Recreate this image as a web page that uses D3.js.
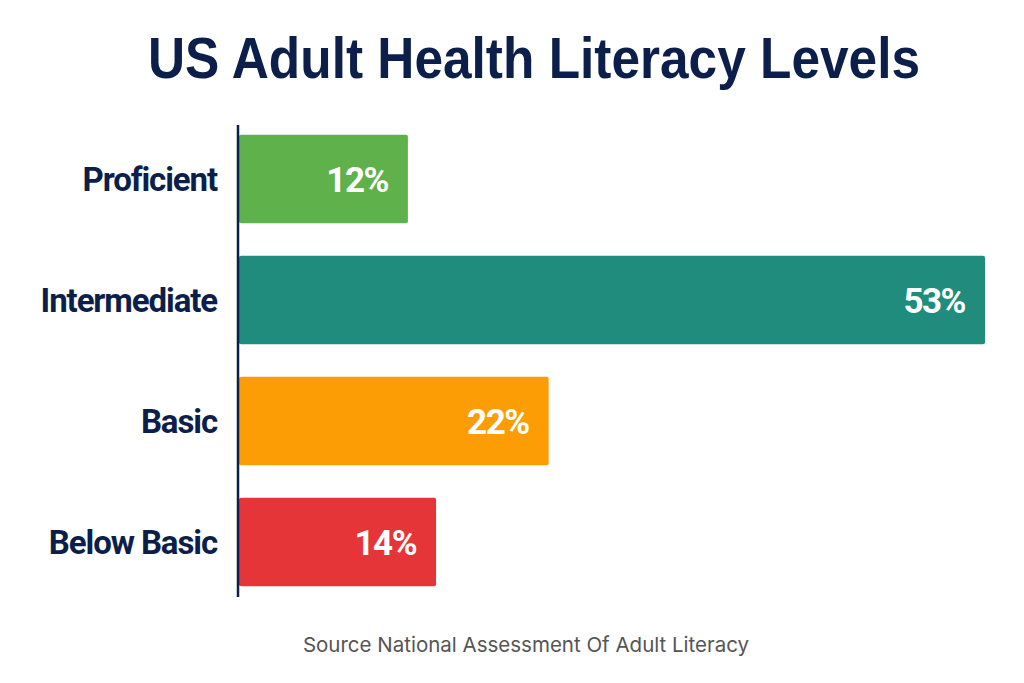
<!doctype html>
<html>
  <head>
    <script src="https://d3js.org/d3.v7.min.js"></script>
    <style>
      body { margin: 0; background: #fff; }
      text.title { font-family: "Liberation Sans", Arial, sans-serif; font-weight: 700; font-size: 58px; fill: #0c1f4a; }
      text.label { font-family: Roboto, sans-serif; font-weight: 700; font-size: 33px; fill: #0c1f4a; letter-spacing: -1.1px; }
      text.value { font-family: Roboto, sans-serif; font-weight: 700; font-size: 35px; fill: #fff; letter-spacing: -1.5px; }
      text.source { font-family: Inter, "Noto Sans", sans-serif; font-size: 20.5px; fill: #555; }
    </style>
  </head>
  <body>
    <svg id="chart" width="1024" height="683"></svg>
    <script>
      // data
      var levels = ['Proficient', 'Intermediate', 'Basic', 'Below Basic'];
      var percents = [12, 53, 22, 14];
      var barColors = ['#5fb24b', '#1f8c7d', '#fd9d05', '#e53538'];

      var rows = levels.map(function (l, i) {
        return { level: l, pct: percents[i], color: barColors[i] };
      });

      var svg = d3.select('#chart');

      svg.append('text')
        .attr('class', 'title')
        .attr('x', 534)
        .attr('y', 78)
        .attr('text-anchor', 'middle')
        .attr('textLength', 772)
        .attr('lengthAdjust', 'spacingAndGlyphs')
        .text('US Adult Health Literacy Levels');

      var x = d3.scaleLinear().domain([0, 53]).range([239, 985]);
      var y = d3.scaleBand()
        .domain(levels)
        .range([118.5, 602.5])
        .paddingInner(0.27)
        .paddingOuter(0.135);

      svg.selectAll('rect.bar')
        .data(rows)
        .enter()
        .append('rect')
        .attr('class', 'bar')
        .attr('x', x(0))
        .attr('y', function (d) { return y(d.level); })
        .attr('width', function (d) { return x(d.pct) - x(0); })
        .attr('height', y.bandwidth())
        .attr('rx', 2)
        .attr('fill', function (d) { return d.color; });

      // category labels
      svg.selectAll('text.label')
        .data(rows)
        .enter()
        .append('text')
        .attr('class', 'label')
        .attr('x', 217)
        .attr('y', function (d) { return y(d.level) + y.bandwidth() / 2; })
        .attr('dy', '0.36em')
        .attr('text-anchor', 'end')
        .text(function (d) { return d.level; });

      // values inside bars
      svg.selectAll('text.value')
        .data(rows)
        .enter()
        .append('text')
        .attr('class', 'value')
        .attr('x', function (d) { return x(d.pct) - 20; })
        .attr('y', function (d) { return y(d.level) + y.bandwidth() / 2; })
        .attr('dy', '0.36em')
        .attr('text-anchor', 'end')
        .text(function (d) { return d.pct + '%'; });

      // axis line
      svg.append('line')
        .attr('x1', x(0) - 1).attr('x2', x(0) - 1)
        .attr('y1', 125).attr('y2', 597)
        .attr('stroke', '#0c1f4a')
        .attr('stroke-width', 2.5);

      svg.append('text')
        .attr('class', 'source')
        .attr('x', 526)
        .attr('y', 652)
        .attr('text-anchor', 'middle')
        .text('Source National Assessment Of Adult Literacy');
    </script>
  </body>
</html>
